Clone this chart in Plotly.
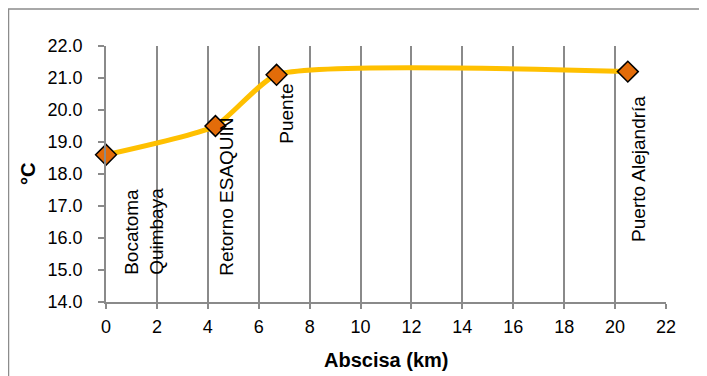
import plotly.graph_objects as go

# Data
abscisa_km = [0, 4.3, 6.7, 20.5]
temperatura_c = [18.6, 19.5, 21.1, 21.2]
sitios = ["Bocatoma<br>Quimbaya", "Retorno ESAQUIN", "Puente", "Puerto Alejandría"]
x_ticks = list(range(0, 23, 2))
y_ticks = [14.0, 15.0, 16.0, 17.0, 18.0, 19.0, 20.0, 21.0, 22.0]

# Label placement (styling)
label_bottom_y = [14.77, 14.77, 18.87, 15.81]
label_xshift = [38, 11, 10, 10]

FONT = "Liberation Sans, Arial, sans-serif"
GRID = "#8a8a8a"
W, H = 699, 368

fig = go.Figure()
fig.add_trace(go.Scatter(
    x=abscisa_km, y=temperatura_c, mode="lines+markers",
    line=dict(color="#FFC000", width=5, shape="spline", smoothing=0.5),
    marker=dict(symbol="diamond", size=16, color="#E36C09",
                line=dict(color="black", width=1.5)),
    showlegend=False, hoverinfo="x+y", cliponaxis=False,
))

for xv, name, yb, xs in zip(abscisa_km, sitios, label_bottom_y, label_xshift):
    fig.add_annotation(x=xv, y=yb, xref="x", yref="y", text=name, showarrow=False,
                       textangle=-90, xanchor="center", yanchor="bottom",
                       xshift=xs, align="left",
                       font=dict(family=FONT, size=19, color="black"))

# plot area in figure px: x 98..658, y 38..294
pw, ph = 560, 256
# Axis titles
fig.add_annotation(x=0.5, y=-(352 - 294) / ph, xref="paper", yref="paper",
                   text="<b>Abscisa (km)</b>", showarrow=False,
                   xanchor="center", yanchor="middle",
                   font=dict(family=FONT, size=20, color="black"))
fig.add_annotation(x=(20 - 98) / pw, y=0.5, xref="paper", yref="paper", text="<b>°C</b>",
                   showarrow=False, textangle=-90, xanchor="center", yanchor="middle",
                   font=dict(family=FONT, size=20, color="black"))

# Outer chart border
fig.add_shape(type="rect", xref="paper", yref="paper",
              x0=(0.5 - 98) / pw, y0=(294 - 380) / ph, x1=(720 - 98) / pw, y1=(294 - 1) / ph,
              line=dict(color="#8c8c8c", width=1.5), fillcolor="rgba(0,0,0,0)", layer="below")

fig.update_layout(
    width=W, height=H,
    margin=dict(l=98, r=W - 658, t=38, b=H - 294),
    paper_bgcolor="white", plot_bgcolor="white",
    font=dict(family=FONT, size=18, color="black"),
    xaxis=dict(range=[0, 22], tickvals=x_ticks, ticktext=[str(v) for v in x_ticks],
               showgrid=True, gridcolor=GRID, gridwidth=1.5,
               showline=True, linecolor=GRID, linewidth=1.5,
               ticks="outside", ticklen=5, tickcolor=GRID, tickwidth=1.5,
               zeroline=False, fixedrange=True, ticklabelstandoff=3),
    yaxis=dict(range=[14, 22], tickvals=y_ticks, ticktext=[f"{v:.1f}" for v in y_ticks],
               showgrid=False, showline=True, linecolor=GRID, linewidth=1.5,
               ticks="outside", ticklen=6, tickcolor=GRID, tickwidth=1.5,
               zeroline=False, fixedrange=True, ticklabelstandoff=12),
)

fig.write_html("out.html")
